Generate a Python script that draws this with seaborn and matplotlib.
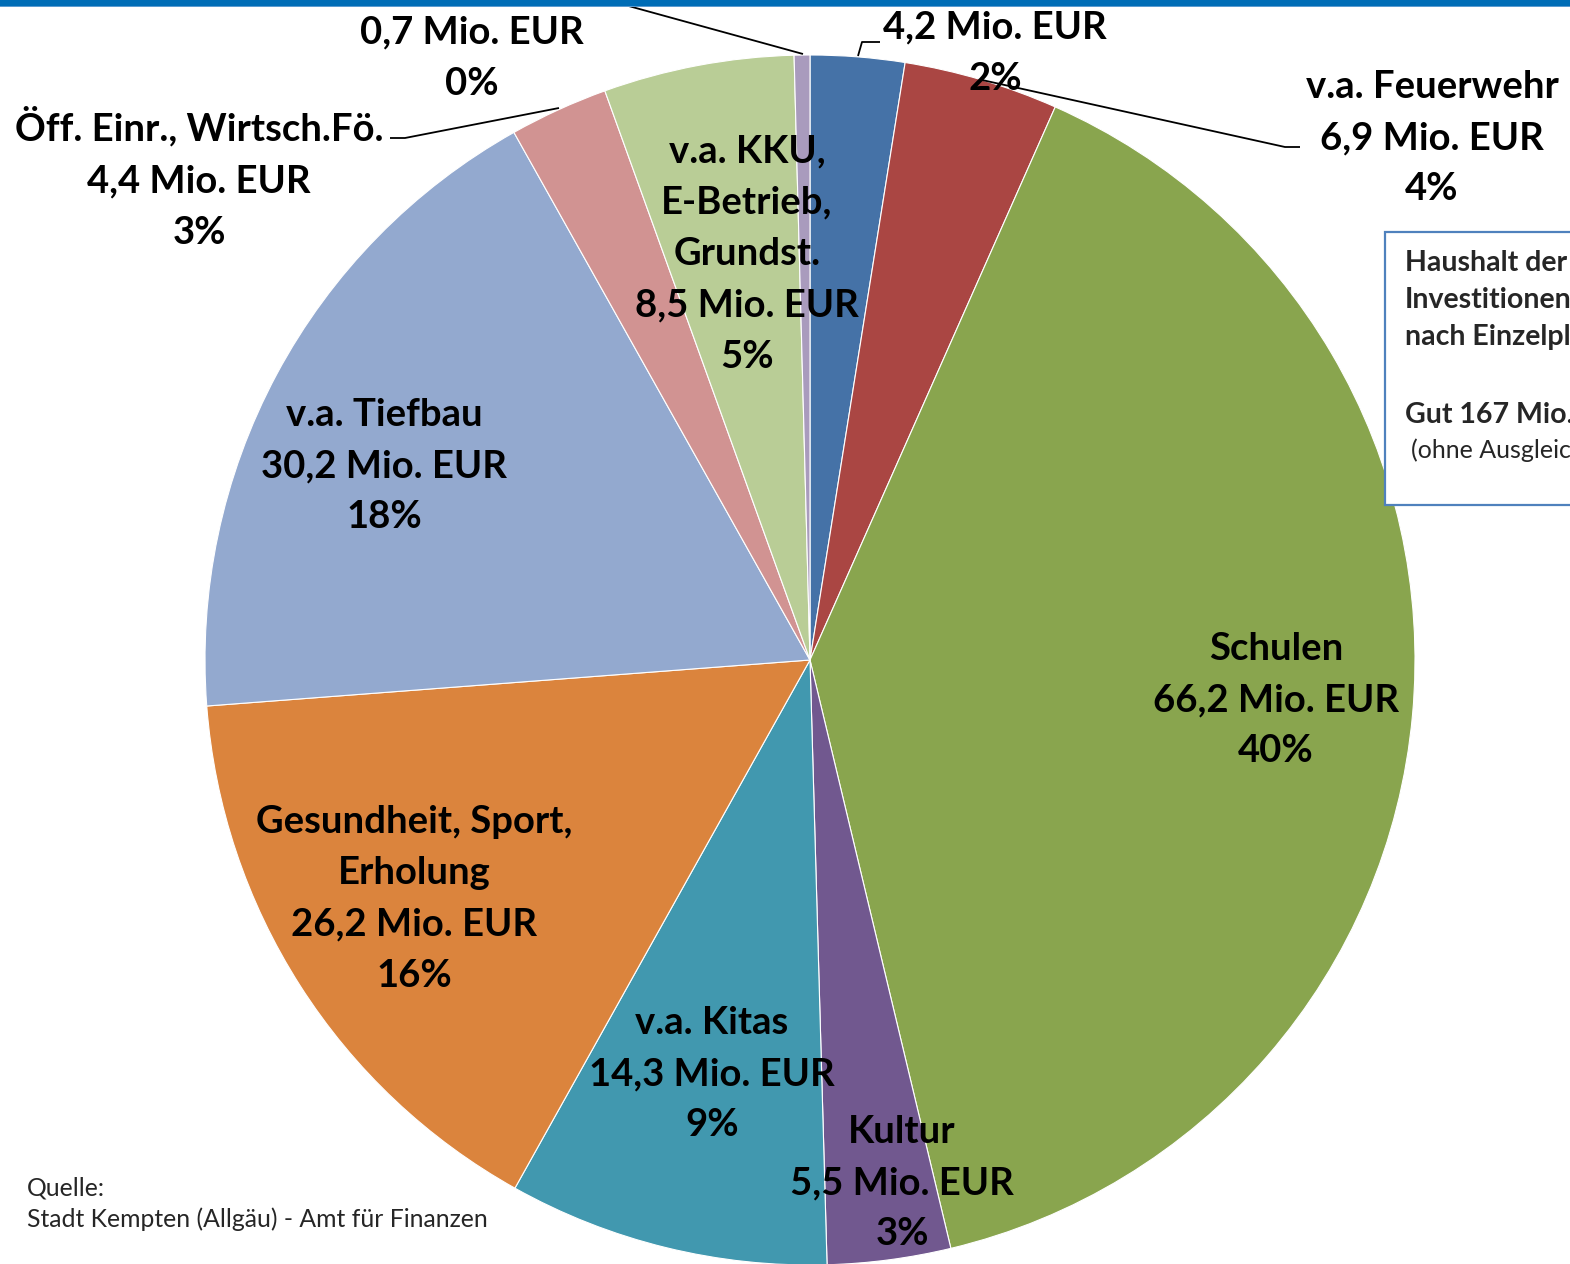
import matplotlib
matplotlib.use("Agg")
import matplotlib.pyplot as plt
import seaborn as sns
from matplotlib.patches import Rectangle

# ---- data ----
label_names = [None, "v.a. Feuerwehr", "Schulen", "Kultur", "v.a. Kitas",
               "Gesundheit, Sport,\nErholung", "v.a. Tiefbau", "Öff. Einr., Wirtsch.Fö.",
               "v.a. KKU,\nE-Betrieb,\nGrundst.", None]
values = [4.2, 6.9, 66.2, 5.5, 14.3, 26.2, 30.2, 4.4, 8.5, 0.7]
value_labels = ["4,2", "6,9", "66,2", "5,5", "14,3", "26,2", "30,2", "4,4", "8,5", "0,7"]
percent_labels = ["2%", "4%", "40%", "3%", "9%", "16%", "18%", "3%", "5%", "0%"]
colors = ["#4572A7", "#AA4643", "#89A54E", "#71588F", "#4198AF",
          "#DB843D", "#93A9CF", "#D19392", "#B9CD96", "#A99BBD"]

W, H = 1570, 1264
sns.set_theme(style="white")
plt.rcParams['font.family'] = ['Lato', 'DejaVu Sans']

fig = plt.figure(figsize=(W / 100, H / 100), dpi=100)
ax = fig.add_axes([0, 0, 1, 1])

cx, cy, R = 810, 660, 605
ax.pie(values, colors=colors, startangle=90, counterclock=False,
       center=(cx, H - cy), radius=R,
       wedgeprops=dict(edgecolor="white", linewidth=0.8))
ax.set_xlim(0, W)
ax.set_ylim(0, H)
ax.set_aspect("auto")
ax.axis("off")

FS = 27.5
LS = 1.62

def label_text(i):
    parts = []
    if label_names[i]:
        parts.append(label_names[i])
    parts.append(f"{value_labels[i]} Mio. EUR")
    parts.append(percent_labels[i])
    return "\n".join(parts)

# label centre positions (pixels, from top)
label_pos = {
    0: (995, 53),
    1: (1432, 138),
    2: (1276, 700),
    3: (902, 1183),
    4: (712, 1074),
    5: (414, 899),
    6: (384, 466),
    7: (199, 178),
    8: (747, 254),
    9: (472, 58),
}
for i, (x, y) in label_pos.items():
    ax.text(x, H - y, label_text(i), ha="center", va="center", fontsize=FS,
            fontweight="bold", linespacing=LS, color="black", zorder=5)

# leader lines
def leader(pts):
    xs = [p[0] for p in pts]
    ys = [H - p[1] for p in pts]
    ax.plot(xs, ys, color="black", lw=1.3, zorder=4, solid_capstyle="butt")

leader([(858, 56), (862, 42), (880, 42)])
leader([(982, 80), (1285, 147), (1300, 147)])
leader([(559, 108), (405, 138), (390, 138)])
leader([(803, 54), (585, -6)])

# info box at right
ax.add_patch(Rectangle((1385, H - 505), 300, 273, facecolor="white",
                       edgecolor="#4F81BD", lw=1.6, zorder=6, clip_on=False))
ax.text(1405, H - 300, "Haushalt der Stadt\nInvestitionen\nnach Einzelplänen",
        ha="left", va="center", fontsize=20.5, fontweight="bold", linespacing=1.54, zorder=7)
ax.text(1405, H - 415, "Gut 167 Mio. EUR", ha="left", va="center", fontsize=20.5,
        fontweight="bold", zorder=7)
ax.text(1411, H - 450, "(ohne Ausgleichs)", ha="left", va="center", fontsize=18,
        zorder=7)

# source
ax.text(27, H - 1204, "Quelle:\nStadt Kempten (Allgäu) - Amt für Finanzen", ha="left",
        va="center", fontsize=17.8, linespacing=1.42, zorder=7)

# top band
fig.patches.append(Rectangle((0, 1 - 6 / H), 1, 6 / H, transform=fig.transFigure,
                             facecolor="#006DB6", edgecolor="none", zorder=10))
fig.patches.append(Rectangle((0, 1 - 7 / H), 1, 1 / H, transform=fig.transFigure,
                             facecolor="#5B9BD0", edgecolor="none", zorder=10))

fig.savefig("out.png", dpi=100)
